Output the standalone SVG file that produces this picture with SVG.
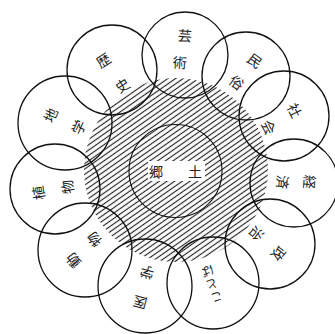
<svg xmlns="http://www.w3.org/2000/svg" width="335" height="334" viewBox="0 0 335 334">
<defs>
<pattern id="hatch" patternUnits="userSpaceOnUse" width="4.4" height="4.4" patternTransform="rotate(-35)">
<line x1="0" y1="2.2" x2="4.4" y2="2.2" stroke="#222" stroke-width="1.15"/>
</pattern>
</defs>
<style>
.c{fill:none;stroke:#111;stroke-width:1.3}
.t{font-family:"Noto Sans CJK JP","Noto Sans CJK SC",sans-serif;font-size:14px;fill:#222;text-anchor:middle;dominant-baseline:central}
.k{font-size:12px}
</style>
<rect width="335" height="334" fill="#fff"/>
<g id="core">
<circle cx="176" cy="170" r="92" fill="url(#hatch)"/>
<circle cx="175.5" cy="171" r="46.5" fill="none" stroke="#111" stroke-width="1.1"/>
<rect x="148" y="161" width="57" height="20" fill="#fff"/>
<text class="t" x="156" y="171">郷</text>
<text class="t" x="195" y="171">土</text>
</g>
<g id="rekishi"><circle class="c" cx="112" cy="70" r="45"/>
<text class="t" transform="translate(103,60) rotate(-33)">歴</text>
<text class="t" transform="translate(122,85) rotate(-33)">史</text></g>
<g id="chigaku"><circle class="c" cx="65" cy="123" r="47"/>
<text class="t" transform="translate(50,115) rotate(-66)">地</text>
<text class="t" transform="translate(78,127) rotate(-66)">学</text></g>
<g id="shokubutsu"><circle class="c" cx="55" cy="189" r="45"/>
<text class="t" transform="translate(38,193) rotate(-99)">植</text>
<text class="t" transform="translate(67,187) rotate(-99)">物</text></g>
<g id="doubutsu"><circle class="c" cx="85" cy="250" r="47"/>
<text class="t" transform="translate(73,261) rotate(-131)">動</text>
<text class="t" transform="translate(94,240) rotate(-131)">物</text></g>
<g id="igaku"><circle class="c" cx="145" cy="286" r="47"/>
<text class="t" transform="translate(140,303) rotate(-165)">医</text>
<text class="t" transform="translate(147,273) rotate(-165)">学</text></g>
<g id="kotoba"><circle class="c" cx="213" cy="283" r="46"/>
<text class="t k" transform="translate(217,298) rotate(162)">こ</text>
<text class="t k" transform="translate(212,285) rotate(162)">と</text>
<text class="t k" transform="translate(208,272) rotate(162)">ば</text></g>
<g id="seiji"><circle class="c" cx="270" cy="244" r="45"/>
<text class="t" transform="translate(279,254) rotate(129)">政</text>
<text class="t" transform="translate(257,234) rotate(129)">治</text></g>
<g id="keizai"><circle class="c" cx="294" cy="183" r="44"/>
<text class="t" transform="translate(310,182) rotate(95)">経</text>
<text class="t" transform="translate(283,182) rotate(95)">済</text></g>
<g id="shakai"><circle class="c" cx="284" cy="116" r="45"/>
<text class="t" transform="translate(295,110) rotate(63)">社</text>
<text class="t" transform="translate(269,127) rotate(63)">会</text></g>
<g id="minzoku"><circle class="c" cx="246" cy="76" r="44"/>
<text class="t" transform="translate(255,60) rotate(36)">民</text>
<text class="t" transform="translate(237,82) rotate(36)">俗</text></g>
<g id="geijutsu"><circle class="c" cx="185" cy="55" r="43"/>
<text class="t" transform="translate(185,35) rotate(4)">芸</text>
<text class="t" transform="translate(180,62) rotate(4)">術</text></g>
</svg>
